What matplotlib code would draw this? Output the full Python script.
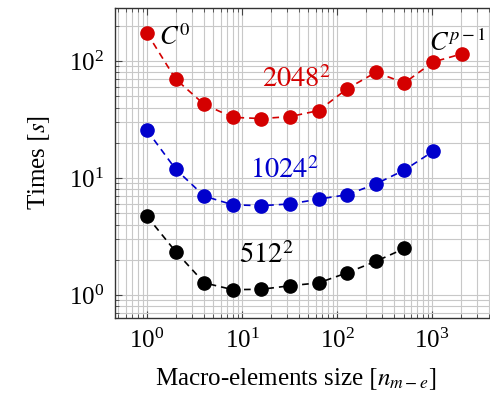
import numpy as np
import matplotlib
matplotlib.use("Agg")
import matplotlib.pyplot as plt

plt.rcParams['font.family'] = ['Liberation Serif', 'DejaVu Serif']
plt.rcParams['mathtext.fontset'] = 'stix'

# macro-element sizes
n_me = [1, 2, 4, 8, 16, 32, 64, 128, 256, 512, 1024, 2048]

# times in seconds per grid size
t_2048 = [173, 70, 42.5, 33, 32.2, 33.5, 37.7, 58, 80, 65, 98, 115]
t_1024 = [25.5, 11.9, 7.0, 5.9, 5.8, 6.0, 6.6, 7.2, 8.9, 11.7, 16.9]
t_512 = [4.7, 2.35, 1.27, 1.11, 1.12, 1.2, 1.27, 1.55, 1.94, 2.5]

fig = plt.figure(figsize=(4.9, 3.98), dpi=100)
ax = fig.add_axes([0.2347, 0.201, 0.786, 0.779])

for t, col in [(t_2048, '#d40000'), (t_1024, '#0000cc'), (t_512, 'black')]:
    ax.plot(n_me[:len(t)], t, '--o', color=col, markersize=9.5,
            linewidth=1.2, dashes=(4, 3))

ax.set_xscale('log')
ax.set_yscale('log')
ax.set_xlim(0.46, 5200)
ax.set_ylim(0.636, 284)

ax.grid(True, which='both', color='#c8c8c8', linewidth=0.8)
ax.set_axisbelow(True)
ax.tick_params(which='both', direction='in', top=True, right=True,
               labelsize=18, color='#444444')
ax.tick_params(which='major', length=5, pad=8)
ax.tick_params(which='minor', length=3)
for s in ax.spines.values():
    s.set_linewidth(1.0)
    s.set_color('#333333')

ax.set_xlabel(r'Macro-elements size $[n_{m-e}]$', fontsize=18)
ax.xaxis.set_label_coords(0.468, -0.155)
ax.set_ylabel(r'Times $[s]$', fontsize=18, labelpad=12)

ax.text(0.155, 0.906, r'$C^0$', transform=ax.transAxes, fontsize=19,
        ha='center', va='center')
ax.text(0.89, 0.887, r'$C^{p-1}$', transform=ax.transAxes, fontsize=19,
        ha='center', va='center')
ax.text(0.470, 0.768, r'$2048^2$', transform=ax.transAxes, fontsize=20.5,
        ha='center', va='center', color='#d40000')
ax.text(0.439, 0.477, r'$1024^2$', transform=ax.transAxes, fontsize=20.5,
        ha='center', va='center', color='#0000cc')
ax.text(0.392, 0.203, r'$512^2$', transform=ax.transAxes, fontsize=20.5,
        ha='center', va='center', color='black')

fig.savefig('out.png', dpi=100)
